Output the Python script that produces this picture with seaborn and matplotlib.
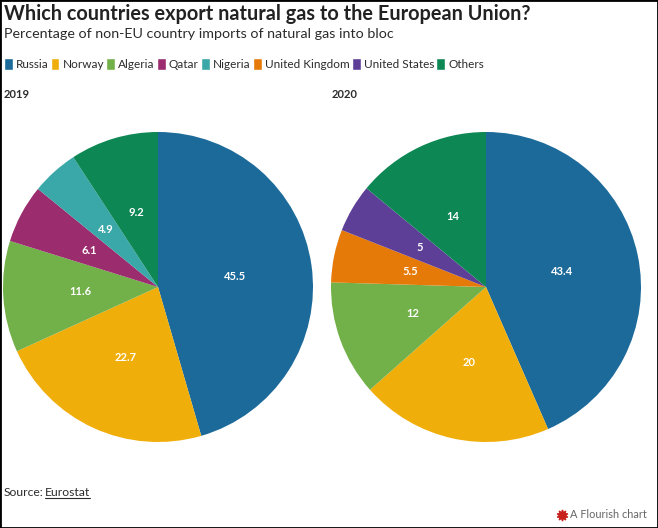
import matplotlib
matplotlib.use("Agg")
import matplotlib.pyplot as plt
from matplotlib.lines import Line2D
from matplotlib.patches import Patch, Rectangle
import seaborn as sns

# --- data ---
countries = ["Russia", "Norway", "Algeria", "Qatar", "Nigeria", "United Kingdom", "United States", "Others"]
colores = ["#1c6a9a", "#f0ae0a", "#72b04a", "#9b2c6e", "#3aa7a8", "#e67a08", "#5e3f98", "#0d8754"]

names_2019 = ["Russia", "Norway", "Algeria", "Qatar", "Nigeria", "Others"]
values_2019 = [45.5, 22.7, 11.6, 6.1, 4.9, 9.2]
names_2020 = ["Russia", "Norway", "Algeria", "United Kingdom", "United States", "Others"]
values_2020 = [43.4, 20, 12, 5.5, 5, 14]

W, H = 658, 528
TEXTO = "#2b2b2b"

sns.set_theme(style="white")
plt.rcParams["font.family"] = ["Lato", "DejaVu Sans"]
paleta = dict(zip(countries, sns.color_palette(colores)))


def px(x, y):
    # pixel coords (top-left origin) to figure fraction
    return x / W, 1 - y / H


def dibuja_pie(ax, names, values):
    wedges, _, autotexts = ax.pie(values, colors=[paleta[n] for n in names], startangle=90,
                                  counterclock=False, autopct="%.1f", pctdistance=0.5,
                                  radius=1, wedgeprops={"linewidth": 0})
    for t, v in zip(autotexts, values):
        t.set_text(f"{v:g}")
        t.set(color="white", fontsize=8, fontweight="bold")
    ax.set_xlim(-1, 1)
    ax.set_ylim(-1, 1)


fig = plt.figure(figsize=(W / 100, H / 100), dpi=100, facecolor="white")

ax1 = fig.add_axes([3 / W, 1 - 442 / H, 310 / W, 310 / H])
dibuja_pie(ax1, names_2019, values_2019)
ax2 = fig.add_axes([331 / W, 1 - 442 / H, 310 / W, 310 / H])
dibuja_pie(ax2, names_2020, values_2020)

fig.text(*px(4, 14), "Which countries export natural gas to the European Union?", fontsize=14.3,
         fontweight="bold", color="#222222", va="center")
fig.text(*px(4, 34), "Percentage of non-EU country imports of natural gas into bloc", fontsize=10.3,
         color=TEXTO, va="center")
fig.text(*px(4, 94), "2019", fontsize=8, fontweight="bold", color=TEXTO, va="center")
fig.text(*px(332, 94), "2020", fontsize=8, fontweight="bold", color=TEXTO, va="center")

handles = [Patch(facecolor=paleta[c], label=c) for c in countries]
fig.legend(handles=handles, loc="center left", bbox_to_anchor=px(-1, 64), ncol=8, frameon=False,
           fontsize=8.5, labelcolor=TEXTO, handlelength=0.75, handleheight=1.2, handletextpad=0.25,
           columnspacing=0.2, borderpad=0.4, borderaxespad=0)

fig.text(*px(4, 492), "Source:", fontsize=8.7, color=TEXTO, va="center")
fig.text(*px(45, 492), "Eurostat", fontsize=8.7, color=TEXTO, va="center")
fig.add_artist(Line2D([45 / W, 90 / W], [1 - 498 / H] * 2, color=TEXTO, lw=0.8))

fig.add_artist(Line2D([562 / W], [1 - 515 / H], marker=(10, 1), markersize=8, color="#c8201c", lw=0))
fig.text(*px(570, 515), "A Flourish chart", fontsize=7.9, color="#666666", va="center")

# marco negro de la captura
fig.add_artist(Rectangle((0, 0), 1, 1, transform=fig.transFigure, fill=False, edgecolor="black", lw=2))

fig.savefig("out.png", dpi=100)
